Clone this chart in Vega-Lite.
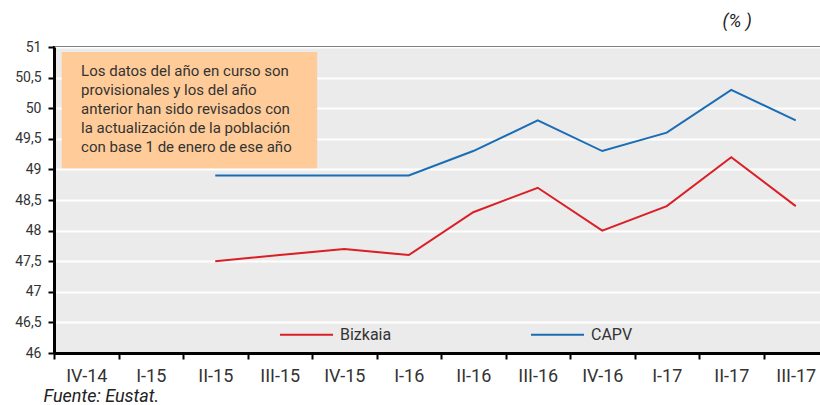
{
  "$schema": "https://vega.github.io/schema/vega-lite/v6.json",
  "autosize": {"type": "none"},
  "padding": {"left": 54, "top": 47, "right": 0, "bottom": 52},
  "width": 774,
  "height": 306,
  "background": "white",
  "config": {
    "font": "Roboto",
    "view": {"fill": "#EBEBEB", "stroke": "black", "strokeWidth": 2},
    "axis": {"labelFont": "Roboto", "labelColor": "#333333", "domainColor": "black", "tickColor": "black"},
    "axisX": {
      "title": "Fuente: Eustat.", "titleFont": "Roboto", "titleFontStyle": "italic", "titleFontWeight": "normal", "titleFontSize": 18, "titleColor": "#222222",
      "titleAnchor": "start", "titleAlign": "left", "titleBaseline": "alphabetic", "titleX": -11, "titleY": 48,
      "labelAngle": 0, "labelFontSize": 18, "labelPadding": 8, "labelBaseline": "top", "labelOverlap": false,
      "tickBand": "extent", "tickSize": 6, "tickWidth": 2, "domainWidth": 3, "grid": false
    },
    "axisY": {
      "titleFont": "Roboto", "titleFontStyle": "italic", "titleFontWeight": "normal", "titleFontSize": 18, "titleColor": "#222222",
      "titleAngle": 0, "titleAlign": "left", "titleBaseline": "middle", "titleX": 668, "titleY": -26,
      "labelFontSize": 14, "labelPadding": 7, "labelOverlap": false, "labelFlush": false, "tickSize": 6, "tickWidth": 2, "domainWidth": 3,
      "grid": true, "gridColor": "white", "gridWidth": 2, "gridOpacity": 1
    }
  },
  "layer": [
    {
      "data": {"values": [{"x0": "IV-14", "x1": "IV-15", "y0": 50.92, "y1": 49.02}]},
      "mark": {"type": "rect", "fill": "#FFCC99"},
      "encoding": {
        "x": {"field": "x0", "type": "nominal", "bandPosition": 0.12,
          "scale": {"domain": ["IV-14", "I-15", "II-15", "III-15", "IV-15", "I-16", "II-16", "III-16", "IV-16", "I-17", "II-17", "III-17"], "paddingInner": 0, "paddingOuter": 0},
          "axis": {"title": "Fuente: Eustat."}},
        "x2": {"field": "x1", "bandPosition": 0.08},
        "y": {"field": "y0", "type": "quantitative",
          "scale": {"domain": [46, 51], "nice": false, "zero": false},
          "axis": {"title": "(% )", "values": [46, 46.5, 47, 47.5, 48, 48.5, 49, 49.5, 50, 50.5, 51], "labelExpr": "replace(format(datum.value, '~g'), '.', ',')"}},
        "y2": {"field": "y1"}
      }
    },
    {
      "data": {"values": [{"x0": "IV-14", "y": 50.73, "texto": "Los datos del año en curso son\nprovisionales y los del año\nanterior han sido revisados con\nla actualización de la población\ncon base 1 de enero de ese año"}]},
      "mark": {"type": "text", "align": "left", "baseline": "top", "lineBreak": "\n", "lineHeight": 19.2, "fontSize": 15, "font": "Roboto", "color": "#333333"},
      "encoding": {
        "x": {"field": "x0", "type": "nominal", "bandPosition": 0.42,
          "scale": {"domain": ["IV-14", "I-15", "II-15", "III-15", "IV-15", "I-16", "II-16", "III-16", "IV-16", "I-17", "II-17", "III-17"], "paddingInner": 0, "paddingOuter": 0},
          "axis": {"title": "Fuente: Eustat."}},
        "y": {"field": "y", "type": "quantitative",
          "scale": {"domain": [46, 51], "nice": false, "zero": false},
          "axis": {"title": "(% )", "values": [46, 46.5, 47, 47.5, 48, 48.5, 49, 49.5, 50, 50.5, 51], "labelExpr": "replace(format(datum.value, '~g'), '.', ',')"}},
        "text": {"field": "texto"}
      }
    },
    {
      "data": {"values": [
        {"periodo": "II-15", "serie": "Bizkaia", "valor": 47.5},
        {"periodo": "III-15", "serie": "Bizkaia", "valor": 47.6},
        {"periodo": "IV-15", "serie": "Bizkaia", "valor": 47.7},
        {"periodo": "I-16", "serie": "Bizkaia", "valor": 47.6},
        {"periodo": "II-16", "serie": "Bizkaia", "valor": 48.3},
        {"periodo": "III-16", "serie": "Bizkaia", "valor": 48.7},
        {"periodo": "IV-16", "serie": "Bizkaia", "valor": 48.0},
        {"periodo": "I-17", "serie": "Bizkaia", "valor": 48.4},
        {"periodo": "II-17", "serie": "Bizkaia", "valor": 49.2},
        {"periodo": "III-17", "serie": "Bizkaia", "valor": 48.4},
        {"periodo": "II-15", "serie": "CAPV", "valor": 48.9},
        {"periodo": "III-15", "serie": "CAPV", "valor": 48.9},
        {"periodo": "IV-15", "serie": "CAPV", "valor": 48.9},
        {"periodo": "I-16", "serie": "CAPV", "valor": 48.9},
        {"periodo": "II-16", "serie": "CAPV", "valor": 49.3},
        {"periodo": "III-16", "serie": "CAPV", "valor": 49.8},
        {"periodo": "IV-16", "serie": "CAPV", "valor": 49.3},
        {"periodo": "I-17", "serie": "CAPV", "valor": 49.6},
        {"periodo": "II-17", "serie": "CAPV", "valor": 50.3},
        {"periodo": "III-17", "serie": "CAPV", "valor": 49.8}
      ]},
      "mark": {"type": "line", "strokeWidth": 2},
      "encoding": {
        "x": {"field": "periodo", "type": "nominal",
          "scale": {"domain": ["IV-14", "I-15", "II-15", "III-15", "IV-15", "I-16", "II-16", "III-16", "IV-16", "I-17", "II-17", "III-17"], "paddingInner": 0, "paddingOuter": 0},
          "axis": {"title": "Fuente: Eustat."}},
        "y": {"field": "valor", "type": "quantitative",
          "scale": {"domain": [46, 51], "nice": false, "zero": false},
          "axis": {"title": "(% )", "values": [46, 46.5, 47, 47.5, 48, 48.5, 49, 49.5, 50, 50.5, 51], "labelExpr": "replace(format(datum.value, '~g'), '.', ',')"}},
        "color": {
          "field": "serie", "type": "nominal",
          "scale": {"domain": ["Bizkaia", "CAPV"], "range": ["#DA1F26", "#1A6DB5"]},
          "legend": {
            "title": null, "orient": "none", "direction": "horizontal", "legendX": 225, "legendY": 260,
            "symbolType": "stroke", "symbolSize": 2809, "symbolStrokeWidth": 2,
            "labelFontSize": 16, "labelFont": "Roboto", "labelColor": "#333333", "labelOffset": 6,
            "columnPadding": 135, "padding": 0
          }
        }
      }
    }
  ]
}
